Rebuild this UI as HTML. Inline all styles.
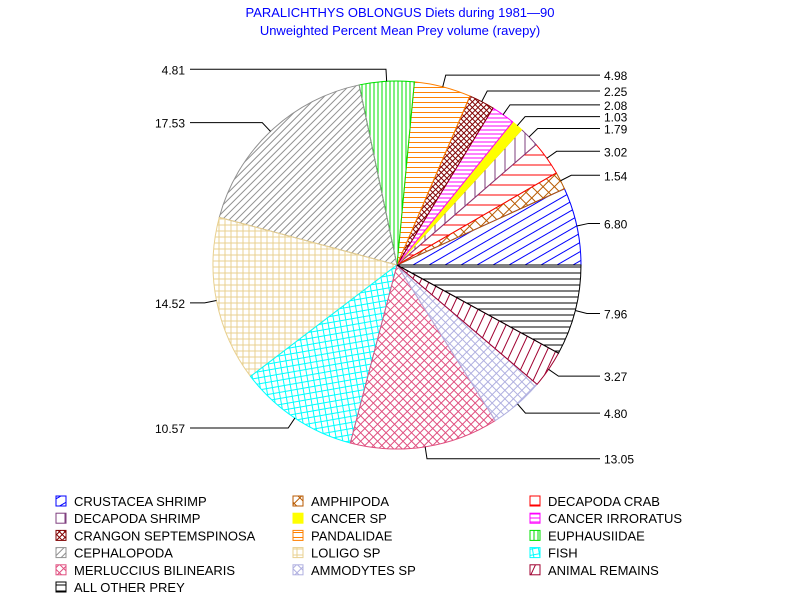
<!DOCTYPE html>
<html><head><meta charset="utf-8"><style>
body{margin:0;background:#fff;}
svg{display:block;font-family:"Liberation Sans",sans-serif;}
</style></head><body>
<svg id="chart" width="800" height="600" viewBox="0 0 800 600">
<defs>
<pattern id="p0" width="8" height="8" patternUnits="userSpaceOnUse" patternTransform="rotate(-30)"><line x1="0" y1="4" x2="8" y2="4" stroke="#0000ff" stroke-width="1"/></pattern>
<pattern id="p1" width="8" height="8" patternUnits="userSpaceOnUse" patternTransform="rotate(45)"><path d="M0 4H8M4 0V8" stroke="#b85a00" stroke-width="1"/></pattern>
<pattern id="p2" width="10" height="10" patternUnits="userSpaceOnUse"><line x1="0" y1="5" x2="10" y2="5" stroke="#ff0000"/></pattern>
<pattern id="p3" width="10" height="10" patternUnits="userSpaceOnUse"><line x1="5" y1="0" x2="5" y2="10" stroke="#7f3f7f"/></pattern>
<pattern id="p4" width="4" height="4" patternUnits="userSpaceOnUse"><rect width="4" height="4" fill="#ffff00"/></pattern>
<pattern id="p5" width="4" height="4" patternUnits="userSpaceOnUse"><line x1="0" y1="2" x2="4" y2="2" stroke="#ff00ff"/></pattern>
<pattern id="p6" width="4" height="4" patternUnits="userSpaceOnUse" patternTransform="rotate(45)"><path d="M0 2H4M2 0V4" stroke="#800000"/></pattern>
<pattern id="p7" width="5" height="5" patternUnits="userSpaceOnUse"><line x1="0" y1="2.5" x2="5" y2="2.5" stroke="#ff8000"/></pattern>
<pattern id="p8" width="4" height="4" patternUnits="userSpaceOnUse"><line x1="2" y1="0" x2="2" y2="4" stroke="#00e000"/></pattern>
<pattern id="p9" width="5" height="5" patternUnits="userSpaceOnUse" patternTransform="rotate(-45)"><line x1="0" y1="2.5" x2="5" y2="2.5" stroke="#909090"/></pattern>
<pattern id="p10" width="6" height="6" patternUnits="userSpaceOnUse"><path d="M0 3H6M3 0V6" stroke="#e8d090"/></pattern>
<pattern id="p11" width="6" height="6" patternUnits="userSpaceOnUse" patternTransform="rotate(-10)"><path d="M0 3H6M3 0V6" stroke="#00ffff"/></pattern>
<pattern id="p12" width="6" height="6" patternUnits="userSpaceOnUse" patternTransform="rotate(45)"><path d="M0 3H6M3 0V6" stroke="#e05080"/></pattern>
<pattern id="p13" width="6" height="6" patternUnits="userSpaceOnUse" patternTransform="rotate(45)"><path d="M0 3H6M3 0V6" stroke="#b0b0e0"/></pattern>
<pattern id="p14" width="8" height="8" patternUnits="userSpaceOnUse" patternTransform="rotate(-65)"><line x1="0" y1="4" x2="8" y2="4" stroke="#a00030"/></pattern>
<pattern id="p15" width="6" height="6" patternUnits="userSpaceOnUse"><line x1="0" y1="3" x2="6" y2="3" stroke="#000"/></pattern>
</defs>
<text x="400" y="17" text-anchor="middle" font-size="13" fill="#0000ff">PARALICHTHYS OBLONGUS Diets during 1981—90</text>
<text x="400" y="35" text-anchor="middle" font-size="13" fill="#0000ff">Unweighted Percent Mean Prey volume (ravepy)</text>
<g id="slices"></g>
<g id="labels"></g>
<g id="legend"></g>
</svg>
<script>
const categories = ["CRUSTACEA SHRIMP","AMPHIPODA","DECAPODA CRAB","DECAPODA SHRIMP","CANCER SP","CANCER IRRORATUS","CRANGON SEPTEMSPINOSA","PANDALIDAE","EUPHAUSIIDAE","CEPHALOPODA","LOLIGO SP","FISH","MERLUCCIUS BILINEARIS","AMMODYTES SP","ANIMAL REMAINS","ALL OTHER PREY"];
const values = [6.80,1.54,3.02,1.79,1.03,2.08,2.25,4.98,4.81,17.53,14.52,10.57,13.05,4.80,3.27,7.96];
const valueLabels = ["6.80","1.54","3.02","1.79","1.03","2.08","2.25","4.98","4.81","17.53","14.52","10.57","13.05","4.80","3.27","7.96"];
const colors = ["#0000ff","#b85a00","#ff0000","#7f3f7f","#ffff00","#ff00ff","#800000","#ff8000","#00e000","#909090","#e8d090","#00ffff","#e05080","#b0b0e0","#a00030","#000000"];
const NS="http://www.w3.org/2000/svg";
const cx=397, cy=265, R=184;
const total=values.reduce((a,b)=>a+b,0);
function pt(a,r){return [cx+r*Math.cos(a), cy-r*Math.sin(a)];}
const gS=document.getElementById('slices'), gL=document.getElementById('labels'), gG=document.getElementById('legend');
let cum=0;
values.forEach((v,i)=>{
  const a0=cum/total*2*Math.PI; cum+=v; const a1=cum/total*2*Math.PI;
  const p0=pt(a0,R), p1=pt(a1,R);
  const large=(a1-a0)>Math.PI?1:0;
  const p=document.createElementNS(NS,'path');
  p.setAttribute('d',`M${cx},${cy}L${p0[0]},${p0[1]}A${R},${R} 0 ${large} 0 ${p1[0]},${p1[1]}Z`);
  p.setAttribute('fill',`url(#p${i})`);
  p.setAttribute('stroke',colors[i]);
  p.setAttribute('stroke-width','1');
  
  
  gS.appendChild(p);
  const am=(a0+a1)/2, e=pt(am,R), k=pt(am,R+12);
  const right=Math.cos(am)>=0;
  const xe=right?600:190;
  const l=document.createElementNS(NS,'polyline');
  l.setAttribute('points',`${e[0]},${e[1]} ${k[0]},${k[1]} ${xe},${k[1]}`);
  l.setAttribute('fill','none'); l.setAttribute('stroke','#000');
  
  
  gL.appendChild(l);
  const t=document.createElementNS(NS,'text');
  t.setAttribute('x',right?604:185); t.setAttribute('y',k[1]+5);
  t.setAttribute('font-size','12'); t.setAttribute('text-anchor',right?'start':'end');
  t.textContent=valueLabels[i];
  
  
  gL.appendChild(t);
  const col=i%3, row=Math.floor(i/3);
  const x=56+col*237, y=496+row*17.2;
  const g=document.createElementNS(NS,'g');
  
  
  const r=document.createElementNS(NS,'rect');
  r.setAttribute('x',x);r.setAttribute('y',y);r.setAttribute('width',10);r.setAttribute('height',10);
  r.setAttribute('fill',`url(#p${i})`);r.setAttribute('stroke',colors[i]);
  g.appendChild(r);
  const tt=document.createElementNS(NS,'text');
  tt.setAttribute('x',x+18);tt.setAttribute('y',y+10);tt.setAttribute('font-size','13');
  tt.textContent=categories[i];
  g.appendChild(tt);
  gG.appendChild(g);
});
</script>
</body></html>
